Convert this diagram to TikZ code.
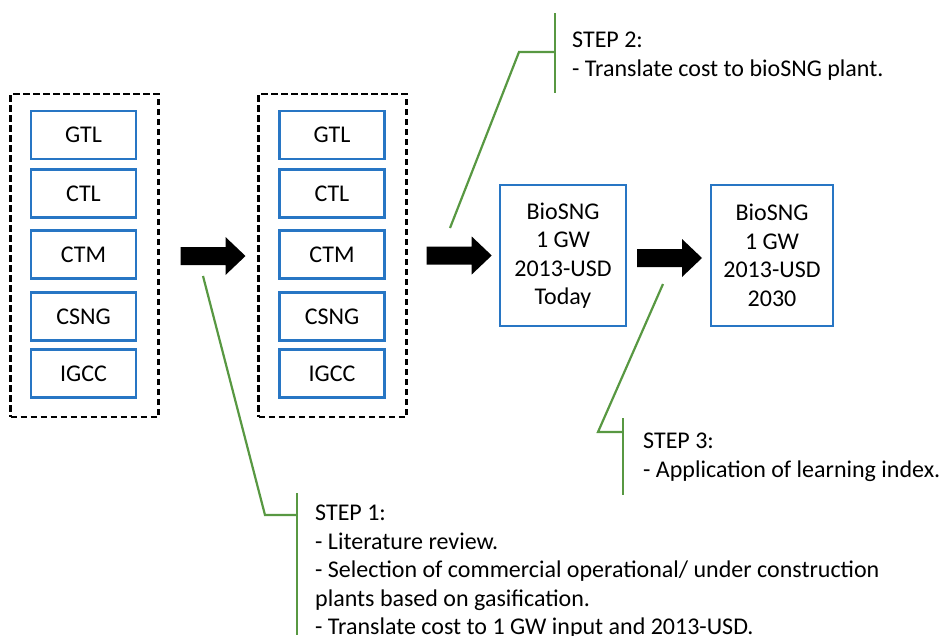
\documentclass[tikz,border=0pt]{standalone}
\usepackage{fontspec}
\setmainfont{Carlito}
\usetikzlibrary{calc}
\definecolor{boxblue}{RGB}{40,118,196}
\definecolor{callgreen}{RGB}{88,152,66}
\begin{document}
\begin{tikzpicture}[x=1pt,y=-1pt,
  every node/.style={font=\fontsize{24}{28.5}\selectfont},
  techbox/.style={draw=boxblue, line width=2.4pt, minimum width=105pt, minimum height=48pt, inner sep=0pt},
  groupbox/.style={draw=black, line width=2.3pt, dash pattern=on 6.5pt off 3.5pt, minimum width=148pt, minimum height=323pt, inner sep=0pt},
  snbox/.style={draw=boxblue, line width=2.4pt, minimum height=141pt, inner sep=0pt, align=center},
  callline/.style={draw=callgreen, line width=2.2pt},
  calltext/.style={anchor=north west, align=left, inner sep=0pt},
  blockarrow/.pic={\fill[black] (0,-9) -- (45,-9) -- (45,-19) -- (65,0) -- (45,19) -- (45,9) -- (0,9) -- cycle;}]
\useasboundingbox (0,0) rectangle (940,635);
% group boxes
\node[groupbox] (g1) at (84.5,255.5) {};
\node[groupbox] (g2) at (332.5,255.5) {};
% technology boxes
\foreach \n/\t/\y in {a/GTL/135,b/CTL/193.5,c/CTM/254.5,d/CSNG/316.5,e/IGCC/373.5}{
  \node[techbox] (l\n) at (83.5,\y) {\t};
  \node[techbox] (r\n) at (332,\y) {\t};
}
% BioSNG boxes
\node[snbox, minimum width=126pt] (b1) at (563,255.5) {BioSNG\\1 GW\\2013-USD\\Today};
\node[snbox, minimum width=122pt] (b2) at (772,255.5) {BioSNG\\1 GW\\2013-USD\\2030};
% block arrows
\pic at ($(g1.east)!0.5!(g2.west)+(-28,0.5)$) {blockarrow};
\pic at ($(g2.east)!0.5!(b1.west)+(-26.5,0)$) {blockarrow};
\pic at ($(b1.east)!0.5!(b2.west)+(-31.5,2.5)$) {blockarrow};
% STEP 1 callout
\coordinate (s1tip) at (203,276);
\coordinate (s1knee) at (265,515);
\coordinate (s1join) at (297,515);
\coordinate (s1top) at (297,493);
\coordinate (s1bot) at (297,635);
\draw[callline] (s1tip) -- (s1knee) -- (s1join);
\draw[callline] (s1top) -- (s1bot);
\node[calltext] (t1) at (315,505) {STEP 1:\\- Literature review.\\- Selection of commercial operational/ under construction\\plants based on gasification.\\- Translate cost to 1 GW input and 2013-USD.};
% STEP 2 callout
\coordinate (s2tip) at (450,228);
\coordinate (s2knee) at (519,52);
\coordinate (s2join) at (555,52);
\coordinate (s2top) at (555,13);
\coordinate (s2bot) at (555,93);
\draw[callline] (s2tip) -- (s2knee) -- (s2join);
\draw[callline] (s2top) -- (s2bot);
\node[calltext] (t2) at (572,32) {STEP 2:\\- Translate cost to bioSNG plant.};
% STEP 3 callout
\coordinate (s3tip) at (663,284);
\coordinate (s3knee) at (598,432);
\coordinate (s3join) at (623,432);
\coordinate (s3top) at (623,418);
\coordinate (s3bot) at (623,495);
\draw[callline] (s3tip) -- (s3knee) -- (s3join);
\draw[callline] (s3top) -- (s3bot);
\node[calltext] (t3) at (643,433) {STEP 3:\\- Application of learning index.};
\end{tikzpicture}
\end{document}
